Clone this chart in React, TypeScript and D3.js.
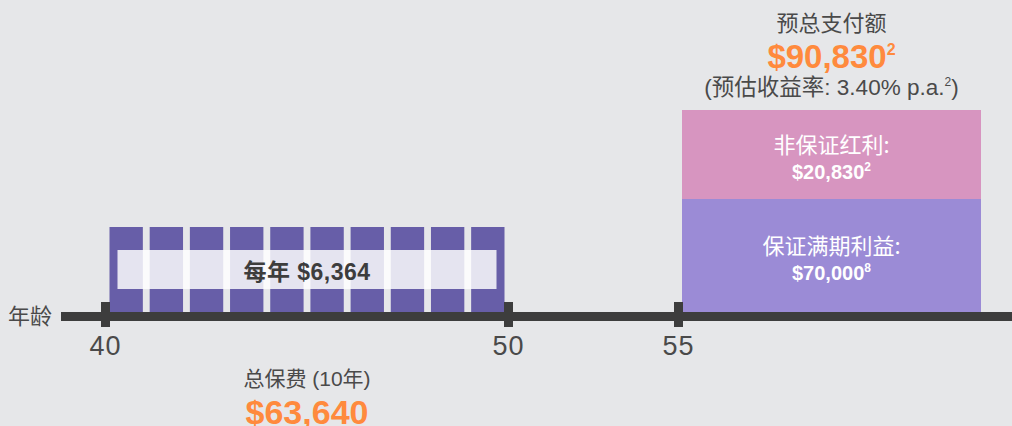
import React from "react";
import * as d3 from "d3";

// ages on the timeline
const tickAges = [40, 50, 55];
const payYears = d3.range(40, 50);
const annualPremium = 6364;
const totalPremium = 63640;
const payYearsCount = 10;

// maturity stack (bottom to top)
const stackKeys = ["guaranteed", "bonus"];
const stackLabels = ["保证满期利益:", "非保证红利:"];
const stackValues = [70000, 20830];
const stackNotes = ["8", "2"];
const totalPayout = 90830;
const totalNote = "2";
const yieldRate = "3.40% p.a.";
const maturityAge = 55;

const W = 1012;
const H = 426;
const BG = "#e6e7e9";
const DARK = "#3d3d3d";
const TEXT = "#4a4a4a";
const ORANGE = "#ff8a3d";
const PAY = "#675ea8";
const COLORS: Record<string, string> = { guaranteed: "#9b8bd6", bonus: "#d795c0" };
const LATIN = "'Liberation Sans', 'Noto Sans CJK SC', sans-serif";
const CJK = "'Noto Sans CJK SC', sans-serif";

const fmt = d3.format("$,");

export default function App() {
  const axisY = 312;
  const x = d3.scaleLinear().domain([40, 50, 55]).range([105.5, 508.5, 678.5]);
  const band = d3
    .scaleBand<number>()
    .domain(payYears)
    .range([x(40) + 4, x(50) - 4])
    .paddingInner(0.17);

  // stack, not drawn to scale in the original, so piecewise at the segment breaks
  const stacked = d3.stack<any>().keys(stackKeys)([
    Object.fromEntries(stackKeys.map((k, i) => [k, stackValues[i]])),
  ]);
  const y = d3
    .scaleLinear()
    .domain([0, stackValues[0], totalPayout])
    .range([axisY, 199, 110]);

  const barX0 = x(maturityAge) + 3.5;
  const barX1 = 981;
  const barCx = (barX0 + barX1) / 2;
  const payCx = (band(40)! + band(49)! + band.bandwidth()) / 2;

  return (
    <svg
      width={W}
      height={H}
      style={{ position: "absolute", left: 0, top: 0, fontFamily: LATIN }}
    >
      <rect width={W} height={H} fill={BG} />

      {/* premium bars */}
      {payYears.map((yr) => (
        <rect key={yr} x={band(yr)} y={227} width={band.bandwidth()} height={axisY - 227} fill={PAY} />
      ))}
      <rect x={band(40)! + 8} y={250} width={band(49)! + band.bandwidth() - band(40)! - 16} height={39} fill="#fff" opacity={0.83} />
      <text x={payCx} y={280} textAnchor="middle" fontSize={23} fontWeight="bold" fill={DARK} letterSpacing={0.5}>
        每年 {fmt(annualPremium)}
      </text>

      {/* maturity stack */}
      {stacked.map((s, i) => {
        const [a, b] = s[0];
        const top = y(b);
        const bottom = y(a);
        const mid = (top + bottom) / 2;
        return (
          <g key={s.key}>
            <rect x={barX0} y={top} width={barX1 - barX0} height={bottom - top} fill={COLORS[s.key]} />
            <text x={barCx} y={mid - 2} textAnchor="middle" fontSize={22} fill="#fff" fontFamily={CJK}>
              {stackLabels[i]}
            </text>
            <text x={barCx} y={mid + 24} textAnchor="middle" fontSize={20} fontWeight="bold" fill="#fff">
              {fmt(stackValues[i])}
              <tspan fontSize={12} dy={-8}>{stackNotes[i]}</tspan>
            </text>
          </g>
        );
      })}

      {/* axis */}
      <rect x={61} y={axisY} width={W - 61} height={9} fill={DARK} />
      {tickAges.map((a) => (
        <g key={a}>
          <rect x={x(a) - 4.5} y={302} width={9} height={25} fill={DARK} />
          <text x={x(a)} y={355} textAnchor="middle" fontSize={27} fill={TEXT} letterSpacing={1}>
            {a}
          </text>
        </g>
      ))}
      <text x={8} y={324} fontSize={22} fill={TEXT} fontFamily={CJK}>
        年龄
      </text>

      {/* totals */}
      <text x={payCx} y={386} textAnchor="middle" fontSize={21} fill={TEXT}>
        总保费 ({payYearsCount}年)
      </text>
      <text x={payCx} y={424} textAnchor="middle" fontSize={34} fontWeight="bold" fill={ORANGE}>
        {fmt(totalPremium)}
      </text>

      <text x={barCx} y={31} textAnchor="middle" fontSize={22} fill={TEXT} fontFamily={CJK}>
        预总支付额
      </text>
      <text x={barCx} y={68} textAnchor="middle" fontSize={33} fontWeight="bold" fill={ORANGE}>
        {fmt(totalPayout)}
        <tspan fontSize={16} dy={-13}>{totalNote}</tspan>
      </text>
      <text x={barCx} y={95} textAnchor="middle" fontSize={22.5} fill={TEXT}>
        (预估收益率: {yieldRate}
        <tspan fontSize={12} dy={-9}>{totalNote}</tspan>
        <tspan dy={9}>)</tspan>
      </text>
    </svg>
  );
}
